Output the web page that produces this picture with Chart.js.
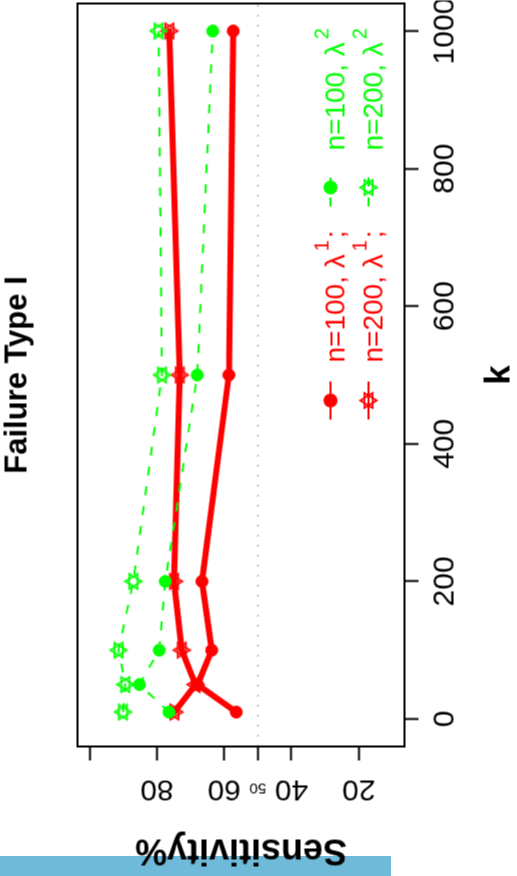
<!DOCTYPE html>
<html>
<head>
<meta charset="utf-8">
<script src="https://cdn.jsdelivr.net/npm/chart.js@4.4.1/dist/chart.umd.min.js"></script>
<style>
html, body { margin: 0; padding: 0; background: #fff; overflow: hidden; }
#band { position: absolute; left: 0; top: 856px; width: 391px; height: 20px; background: #6fb9d9; }
#wrap { position: absolute; left: -179.5px; top: 179.5px; width: 876px; height: 517px; transform: rotate(-90deg); }
</style>
</head>
<body>
<div id="band"></div>
<div id="wrap"><canvas id="sensChart" width="876" height="517" style="width:876px;height:517px"></canvas></div>
<script>
var kValues = [10, 50, 100, 200, 500, 1000];
var sensN100L1 = [56.4, 67.9, 63.7, 66.6, 58.6, 57.3];
var sensN200L1 = [74.8, 68.5, 72.6, 74.9, 73.2, 76.3];
var sensN100L2 = [76.4, 85.2, 79.3, 77.5, 68.0, 63.4];
var sensN200L2 = [90.1, 89.4, 91.4, 87.0, 78.5, 79.5];

var kTicks = [0, 200, 400, 600, 800, 1000];
var sensTicks = [100, 80, 60, 50, 40, 20];
var sensTickLabels = ['', '80', '60', '50', '40', '20'];

var legendText = ['n=100, λ', 'n=200, λ', 'n=100, λ', 'n=200, λ'];
var legendSup = ['1', '1', '2', '2'];
var legendTail = [';', ';', '', ''];

var FONT = "'Liberation Sans', Arial, sans-serif";
var RED = '#ff0000';
var GREEN = '#00ff00';

function toPoints(ys) {
  return kValues.map(function(k, i) {
    return { x: k, y: ys[i] };
  });
}

// R pch=11 style marker: up and down triangles on top of each other
function starImage(color) {
  var c = document.createElement('canvas');
  c.width = 22;
  c.height = 22;
  var g = c.getContext('2d');
  var r = 8.3, cx = 11, cy = 11;
  g.strokeStyle = color;
  g.lineWidth = 1.8;
  g.beginPath();
  g.moveTo(cx, cy - r);
  g.lineTo(cx + r * 0.9, cy + r / 2);
  g.lineTo(cx - r * 0.9, cy + r / 2);
  g.closePath();
  g.moveTo(cx, cy + r);
  g.lineTo(cx + r * 0.9, cy - r / 2);
  g.lineTo(cx - r * 0.9, cy - r / 2);
  g.closePath();
  g.stroke();
  return c;
}

function noPadding(s) {
  s.paddingLeft = 0;
  s.paddingRight = 0;
  s.paddingTop = 0;
  s.paddingBottom = 0;
}

var rPlot = {
  id: 'rPlot',
  beforeDatasetsDraw: function(chart) {
    var ctx = chart.ctx, area = chart.chartArea;
    var y50 = chart.scales.y.getPixelForValue(50);
    ctx.save();
    ctx.strokeStyle = '#777';
    ctx.lineWidth = 1;
    ctx.setLineDash([1.5, 8.5]);
    ctx.beginPath();
    ctx.moveTo(area.left, y50);
    ctx.lineTo(area.right, y50);
    ctx.stroke();
    ctx.restore();
  },
  afterDraw: function(chart) {
    var ctx = chart.ctx, area = chart.chartArea;
    var ys = chart.scales.y;
    ctx.save();
    // box
    ctx.strokeStyle = '#000';
    ctx.lineWidth = 2;
    ctx.strokeRect(area.left, area.top, area.right - area.left, area.bottom - area.top);

    // y tick labels, parallel to the axis
    ctx.fillStyle = '#000';
    ctx.textAlign = 'center';
    ctx.textBaseline = 'alphabetic';
    ys.ticks.forEach(function(t, i) {
      var small = sensTickLabels[i] === '50';
      ctx.save();
      ctx.translate(small ? 93 : 96, ys.getPixelForValue(t.value));
      ctx.rotate(-Math.PI / 2);
      ctx.font = (small ? 15 : 30) + 'px ' + FONT;
      ctx.fillText(sensTickLabels[i], 0, 0);
      ctx.restore();
    });

    // legend, two columns
    var cols = [{ mark: 476, text: 514 }, { mark: 689, text: 726 }];
    var rows = [330, 368];
    chart.data.datasets.forEach(function(ds, i) {
      var col = cols[Math.floor(i / 2)], v = rows[i % 2];
      ctx.strokeStyle = ds.borderColor;
      ctx.fillStyle = ds.borderColor;
      ctx.lineWidth = 2;
      ctx.setLineDash(ds.borderDash || []);
      ctx.beginPath();
      ctx.moveTo(col.mark - 19, v);
      ctx.lineTo(col.mark + 19, v);
      ctx.stroke();
      ctx.setLineDash([]);
      Chart.helpers.drawPoint(ctx, { pointStyle: ds.pointStyle, radius: ds.pointRadius, borderWidth: 1, rotation: 0 }, col.mark, v);

      ctx.textAlign = 'left';
      ctx.font = '28px ' + FONT;
      ctx.fillText(legendText[i], col.text, v + 14);
      var w = ctx.measureText(legendText[i]).width;
      ctx.font = '20px ' + FONT;
      ctx.fillText(legendSup[i], col.text + w + 3, v - 2);
      var sw = ctx.measureText(legendSup[i]).width;
      ctx.font = '28px ' + FONT;
      ctx.fillText(legendTail[i], col.text + w + sw + 5, v + 14);
    });
    ctx.restore();
  }
};

var ctx = document.getElementById('sensChart').getContext('2d');
var myChart = new Chart(ctx, {
  type: 'scatter',
  data: {
    datasets: [
      {
        label: 'n=100, λ1',
        data: toPoints(sensN100L1),
        showLine: true,
        borderColor: RED,
        backgroundColor: RED,
        borderWidth: 6,
        borderCapStyle: 'round',
        borderJoinStyle: 'round',
        pointStyle: 'circle',
        pointRadius: 6,
        pointBorderWidth: 1,
        order: 4
      },
      {
        label: 'n=200, λ1',
        data: toPoints(sensN200L1),
        showLine: true,
        borderColor: RED,
        backgroundColor: RED,
        borderWidth: 6,
        borderCapStyle: 'round',
        borderJoinStyle: 'round',
        pointStyle: starImage(RED),
        pointRadius: 9,
        order: 3
      },
      {
        label: 'n=100, λ2',
        data: toPoints(sensN100L2),
        showLine: true,
        borderColor: GREEN,
        backgroundColor: GREEN,
        borderWidth: 2,
        borderDash: [9, 11],
        pointStyle: 'circle',
        pointRadius: 6,
        pointBorderWidth: 1,
        order: 2
      },
      {
        label: 'n=200, λ2',
        data: toPoints(sensN200L2),
        showLine: true,
        borderColor: GREEN,
        backgroundColor: GREEN,
        borderWidth: 2,
        borderDash: [9, 11],
        pointStyle: starImage(GREEN),
        pointRadius: 9,
        order: 1
      }
    ]
  },
  options: {
    responsive: false,
    animation: false,
    devicePixelRatio: 1,
    events: [],
    layout: { autoPadding: false, padding: { top: 0, right: 3, left: 0, bottom: 0 } },
    plugins: {
      legend: { display: false },
      tooltip: { enabled: false },
      title: {
        display: true,
        text: 'Failure Type I',
        color: '#000',
        fullSize: false,
        font: { family: FONT, size: 31, weight: 'bold', lineHeight: 1 },
        padding: { top: 2, bottom: 44 }
      }
    },
    scales: {
      x: {
        type: 'linear',
        position: 'bottom',
        min: -40,
        max: 1040,
        afterBuildTicks: function(s) {
          s.ticks = kTicks.map(function(v) { return { value: v }; });
        },
        afterFit: function(s) { s.height = 113; noPadding(s); },
        ticks: {
          color: '#000',
          font: { family: FONT, size: 30, lineHeight: 1 },
          padding: 12,
          maxRotation: 0,
          minRotation: 0,
          autoSkip: false,
          callback: function(v) { return String(v); }
        },
        grid: { drawOnChartArea: false, drawTicks: true, tickLength: 14, tickWidth: 2, tickColor: '#000', color: '#000' },
        border: { display: false },
        title: {
          display: true,
          text: 'k',
          color: '#000',
          font: { family: FONT, size: 35, weight: 'bold', lineHeight: 1 },
          padding: { top: 0, bottom: 0 }
        }
      },
      y: {
        type: 'linear',
        min: 6.4,
        max: 103.6,
        afterBuildTicks: function(s) {
          s.ticks = sensTicks.map(function(v) { return { value: v }; });
        },
        afterFit: function(s) { s.width = 130; noPadding(s); },
        ticks: {
          color: '#000',
          callback: function() { return ''; }
        },
        grid: { drawOnChartArea: false, drawTicks: true, tickLength: 14, tickWidth: 2, tickColor: '#000', color: '#000' },
        border: { display: false },
        title: {
          display: true,
          text: 'Sensitivity%',
          color: '#000',
          font: { family: FONT, size: 36, weight: 'bold', lineHeight: 1 },
          padding: { top: 9, bottom: 0 }
        }
      }
    }
  },
  plugins: [rPlot]
});
</script>
</body>
</html>
